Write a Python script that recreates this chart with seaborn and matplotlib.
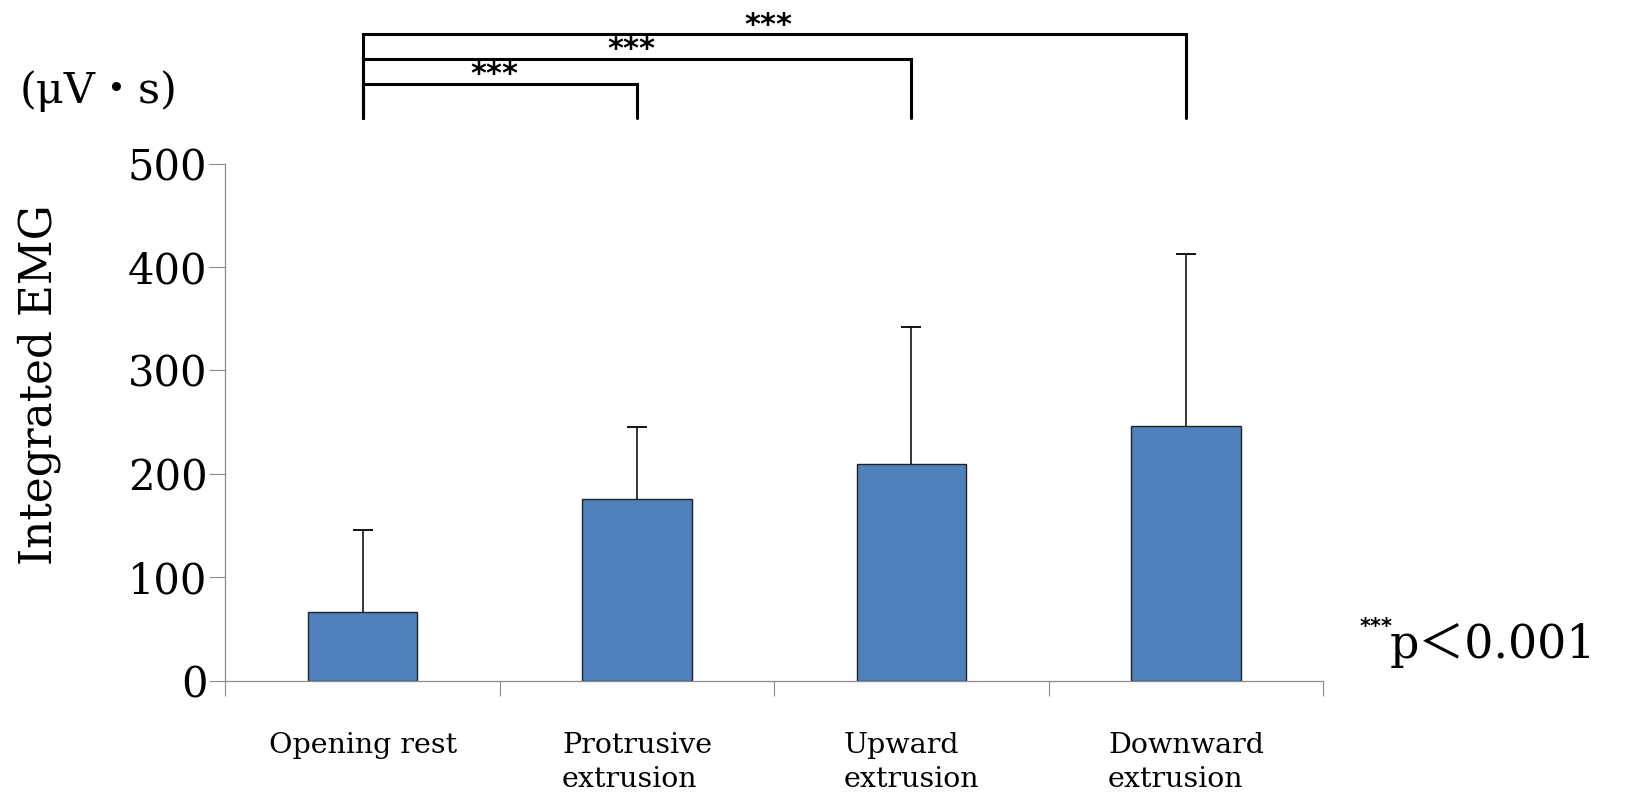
import matplotlib
matplotlib.use("Agg")
import matplotlib.pyplot as plt
import seaborn as sns
import numpy as np
import pandas as pd

categories = ["Opening rest", "Protrusive\nextrusion", "Upward\nextrusion", "Downward\nextrusion"]
means = [66, 176, 210, 246]
sds = [80, 69, 132, 167]
yticks = [0, 100, 200, 300, 400, 500]
# significance brackets: (from category index, to category index, level)
brackets = [(0, 1, 577), (0, 2, 601), (0, 3, 625)]
bracket_bottom = 544
sig_label = "***"

sns.set_theme(style="white")
plt.rcParams['font.family'] = ['DejaVu Serif', 'Noto Sans CJK JP']
plt.rcParams['text.color'] = 'black'
plt.rcParams['axes.labelcolor'] = 'black'
plt.rcParams['xtick.color'] = 'black'
plt.rcParams['ytick.color'] = 'black'

df = pd.DataFrame({"cat": categories, "val": means})

fig = plt.figure(figsize=(16.26, 8), dpi=100)
ax = fig.add_axes([0.1386, 0.1491, 0.6751, 0.6463])

sns.barplot(data=df, x="cat", y="val", ax=ax, color="#4F81BD", width=0.4,
            edgecolor="#222222", linewidth=1.0, saturation=1, errorbar=None)
x = np.arange(len(categories))
eb = ax.errorbar(x, means, yerr=[np.zeros(len(sds)), sds], fmt="none",
                 ecolor="black", elinewidth=1.1, capsize=7, capthick=1.3)
eb[1][0].set_visible(False)

ax.set_xlim(-0.5, len(categories) - 0.5)
ax.set_ylim(0, 500)
ax.set_yticks(yticks)
ax.set_yticklabels([str(v) for v in yticks], fontsize=30)

ax.set_xticks(np.arange(-0.5, len(categories)), minor=False)
ax.set_xticklabels([""] * (len(categories) + 1))
ax.set_xticks(x, minor=True)
ax.set_xticklabels(categories, minor=True, fontsize=20.5, ha="center",
                   multialignment="left", linespacing=1.35)
ax.tick_params(axis="x", which="major", direction="out", length=11, width=0.8,
               color="#8a8a8a", bottom=True)
ax.tick_params(axis="x", which="minor", length=0, pad=37, bottom=True, labelcolor="black")
ax.tick_params(axis="y", direction="out", length=11.5, width=0.8, color="#8a8a8a",
               pad=1.5, left=True, labelcolor="black")

for s in ["top", "right"]:
    ax.spines[s].set_visible(False)
for s in ["left", "bottom"]:
    ax.spines[s].set_color("#8a8a8a")
    ax.spines[s].set_linewidth(0.9)

ax.set_xlabel("")
ax.set_ylabel("Integrated EMG", fontsize=31.5, va="center", color="black")
ax.yaxis.set_label_coords(-0.1697, 0.572)

for a, b, lvl in brackets:
    ax.plot([a, a, b, b], [bracket_bottom, lvl, lvl, bracket_bottom], color="black",
            lw=2.2, clip_on=False, solid_joinstyle="miter")
    ax.text((a + b) / 2 - 0.02, lvl - 5, sig_label, ha="center", va="bottom", fontsize=22,
            fontweight="bold", clip_on=False, family="DejaVu Sans")

fig.text(20 / 1626, 1 - 91 / 800, "(μV・s)", fontsize=31, ha="left", va="center")
fig.text(1360 / 1626, 1 - 627 / 800, "***", fontsize=15, ha="left", va="center",
         family="DejaVu Sans", fontweight="bold")
fig.text(1390 / 1626, 1 - 645 / 800, "p＜0.001", fontsize=33, ha="left", va="center")

fig.savefig("out.png", dpi=100)
